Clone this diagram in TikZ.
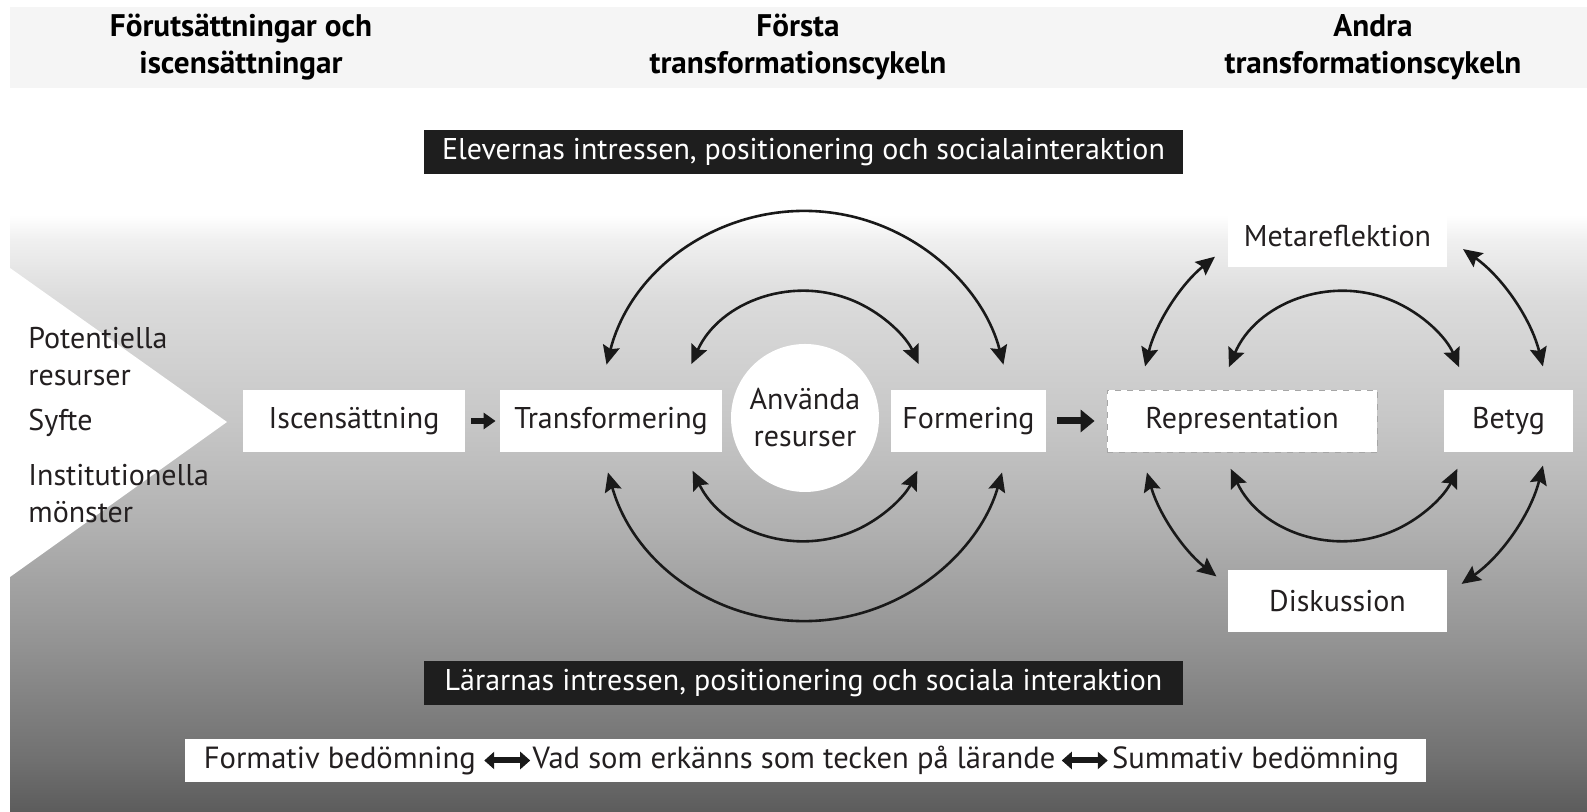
\documentclass[tikz,border=0pt]{standalone}
\usepackage{fontspec}
\setmainfont{PT Sans}
\usepackage{tikz}
\usetikzlibrary{arrows.meta,positioning,shapes}

\definecolor{ink}{HTML}{231F20}
\definecolor{band}{HTML}{F5F5F5}
\definecolor{bar}{HTML}{1E1E1E}
\definecolor{g0}{gray}{0.36}
\definecolor{g1}{gray}{0.44}
\definecolor{g2}{gray}{0.58}
\definecolor{g3}{gray}{0.69}
\definecolor{g4}{gray}{0.78}
\definecolor{g5}{gray}{0.86}
\definecolor{g6}{gray}{0.94}
\pgfdeclareverticalshading{bggrad}{100bp}{color(0bp)=(g0); color(25bp)=(g0);
  color(29.4bp)=(g1); color(39.4bp)=(g2); color(48.6bp)=(g3); color(57.8bp)=(g4);
  color(67.9bp)=(g5); color(72.9bp)=(g6); color(75bp)=(white); color(100bp)=(white)}

\newcommand{\bodysize}{\fontsize{15}{18.5}\selectfont}
\newcommand{\headsize}{\fontsize{15.6}{18.5}\selectfont}
\newcommand{\barsize}{\fontsize{15.3}{18.5}\selectfont}

\begin{document}
\begin{tikzpicture}[x=0.5pt,y=0.5pt,>={Stealth[length=9.5pt,width=8.5pt,inset=1.5pt]},
    font=\bodysize,text=ink]
  \tikzstyle{box}=[rectangle,fill=white,minimum height=31pt,inner sep=0pt]
  \tikzstyle{darkbar}=[rectangle,fill=bar,text=white,minimum height=22pt,
                      minimum width=379.5pt,inner sep=0pt]
  \tikzstyle{cyc}=[<->,line width=1.3pt,black!90]
  \tikzstyle{fat}=[-{Triangle[length=6pt,width=8pt]},line width=3pt,black!90]
  \tikzstyle{dblfat}=[{Triangle[length=5pt,width=8.5pt]}-{Triangle[length=5pt,width=8.5pt]},
                      line width=3pt,black!90]
  \tikzstyle{head}=[font=\headsize\bfseries,text=black,align=center]
  \tikzstyle{side}=[anchor=west,align=left,inner sep=0pt]
  \tikzstyle{inbar}=[inner sep=0pt,text height=11pt,text depth=3pt,font=\barsize]

  \useasboundingbox (0,0) rectangle (1587,812);
  % background
  \fill[band] (10,724) rectangle (1587,805);
  \shade[shading=bggrad] (10,0) rectangle (1587,597);
  \fill[white] (10,544) -- (227,390) -- (10,235) -- cycle;

  % column heads
  \node[head] (hd1) at (241,765) {Förutsättningar och\\iscensättningar};
  \node[head] (hd2) at (798,765) {Första\\transformationscykeln};
  \node[head] (hd3) at (1373,765) {Andra\\transformationscykeln};

  \node[darkbar] (elev) at (803.5,660) {Elevernas intressen, positionering och socialainteraktion};
  \node[darkbar] (larare) at (803.5,128.5) {Lärarnas intressen, positionering och sociala interaktion};

  % left side
  \node[side] (pot) at (28,455.5) {Potentiella\\resurser};
  \node[side] (syf) at (28,389) {Syfte};
  \node[side] (inst) at (28,318.5) {Institutionella\\mönster};

  % main row
  \node[box,minimum width=111pt] (isc) at (354,391) {Iscensättning};
  \node[box,minimum width=111pt] (trans) at (611,391) {Transformering};
  \node[circle,fill=white,minimum size=74pt,inner sep=0pt,align=center] (anv) at (805,394) {Använda\\resurser};
  \node[box,minimum width=77.5pt] (form) at (968.5,391) {Formering};
  \node[box,minimum width=135pt,draw=black!35,dashed] (repr) at (1242,391) {Representation};
  \node[box,minimum width=64.5pt] (betyg) at (1508.5,391) {Betyg};
  \node[box,minimum width=109.5pt] (meta) at (1337.5,576) {Metareflektion};
  \node[box,minimum width=109.5pt] (disk) at (1337.5,211) {Diskussion};

  \draw[fat,shorten <=3pt,shorten >=2pt] (isc) -- (trans);
  \draw[fat,line width=3.5pt,-{Triangle[length=7pt,width=11pt]},shorten <=5.5pt,shorten >=6pt] (form) -- (repr);

  % cycles
  \coordinate (c1) at (805,396);
  \coordinate (c2) at (1344,396);
  \foreach \a/\b/\r in {165.5/14.5/205, 155.5/24.5/125, 196/344/205, 206/334/125}
    \draw[cyc] ([shift={(\a:\r)}]c1) arc[start angle=\a,end angle=\b,radius=\r];
  \foreach \a/\b/\r in {157/23/125, 205/335/125, 166/129/205, 54.5/14/205,
                        196/231.5/205, 305/346/205}
    \draw[cyc] ([shift={(\a:\r)}]c2) arc[start angle=\a,end angle=\b,radius=\r];

  % assessment bar
  \node[box,minimum width=620.5pt,minimum height=21.5pt] (bedom) at (805.5,51.5) {};
  \node[inbar] (f2) at (794,51.5) {Vad som erkänns som tecken på lärande};
  \node[inbar,left=28pt of f2] (f1) {Formativ bedömning};
  \node[inbar,right=28pt of f2] (f3) {Summativ bedömning};
  \draw[dblfat,shorten <=4pt,shorten >=1pt] (f1) -- (f2);
  \draw[dblfat,shorten <=3pt,shorten >=2pt] (f2) -- (f3);
\end{tikzpicture}
\end{document}
